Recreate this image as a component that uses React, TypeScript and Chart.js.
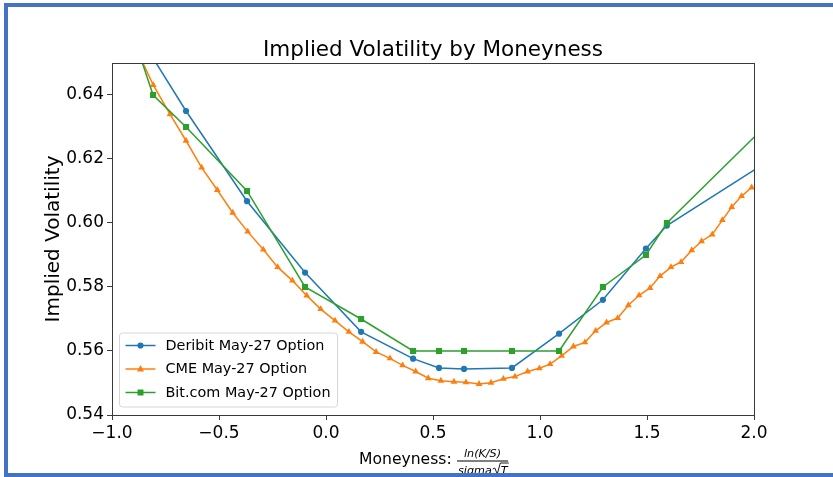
import React, { useEffect, useRef } from "react";
import { Chart, registerables } from "chart.js";

Chart.register(...registerables);

const FONT = "'DejaVu Sans', 'Noto Sans', sans-serif";

const chartTitle = "Implied Volatility by Moneyness";
const yTitle = "Implied Volatility";
const xTitleMain = "Moneyness:";
const xTitleNum = "ln(K/S)";
const xTitleDen = "sigma";
const xTitleDenRoot = "T";

const xTicks = [-1.0, -0.5, 0.0, 0.5, 1.0, 1.5, 2.0];
const yTicks = [0.54, 0.56, 0.58, 0.6, 0.62, 0.64];

const seriesNames = ["Deribit May-27 Option", "CME May-27 Option", "Bit.com May-27 Option"];
const seriesColors = ["#1f77b4", "#ff7f0e", "#2ca02c"];

const deribitX = [-0.92, -0.654, -0.369, -0.098, 0.164, 0.407, 0.528, 0.645, 0.869, 1.089, 1.294, 1.495, 1.593, 2.1];
const deribitY = [0.6635, 0.635, 0.6068, 0.5845, 0.566, 0.5576, 0.5547, 0.5544, 0.5547, 0.5654, 0.576, 0.592, 0.5992, 0.6208];

const cmeX = [-0.88, -0.807, -0.729, -0.654, -0.581, -0.508, -0.436, -0.366, -0.293, -0.226, -0.157, -0.09, -0.025, 0.042, 0.107, 0.171, 0.234, 0.299, 0.358, 0.419, 0.478, 0.537, 0.598, 0.654, 0.715, 0.771, 0.829, 0.883, 0.942, 0.997, 1.047, 1.101, 1.156, 1.21, 1.26, 1.311, 1.363, 1.413, 1.463, 1.514, 1.561, 1.612, 1.659, 1.709, 1.755, 1.805, 1.852, 1.896, 1.942, 1.989];
const cmeY = [0.6535, 0.6431, 0.634, 0.6257, 0.6173, 0.6103, 0.6032, 0.5973, 0.5917, 0.5862, 0.582, 0.5773, 0.5731, 0.5695, 0.566, 0.5629, 0.5597, 0.5577, 0.5555, 0.5536, 0.5515, 0.5507, 0.5504, 0.5502, 0.5497, 0.5501, 0.5513, 0.552, 0.5536, 0.5546, 0.5559, 0.5585, 0.5614, 0.5627, 0.5663, 0.5689, 0.5703, 0.5743, 0.5774, 0.5797, 0.5834, 0.5862, 0.5878, 0.5915, 0.5943, 0.5964, 0.6009, 0.605, 0.6084, 0.6111];

const bitcomX = [-0.92, -0.808, -0.654, -0.369, -0.098, 0.164, 0.407, 0.528, 0.645, 0.869, 1.089, 1.294, 1.495, 1.593, 2.1];
const bitcomY = [0.6624, 0.64, 0.63, 0.61, 0.58, 0.57, 0.56, 0.56, 0.56, 0.56, 0.56, 0.58, 0.59, 0.6, 0.6334];

const pts = (xs: number[], ys: number[]) => xs.map((x, i) => ({ x, y: ys[i] }));

const fmtTick = (v: number, d: number) => (v < 0 ? "\u2212" + Math.abs(v).toFixed(d) : v.toFixed(d));

function drawMarker(ctx: CanvasRenderingContext2D, style: string, x: number, y: number, color: string) {
  ctx.save();
  ctx.fillStyle = color;
  ctx.beginPath();
  if (style === "circle") {
    ctx.arc(x, y, 3.1, 0, Math.PI * 2);
  } else if (style === "triangle") {
    ctx.moveTo(x, y - 4);
    ctx.lineTo(x + 3.6, y + 2.4);
    ctx.lineTo(x - 3.6, y + 2.4);
    ctx.closePath();
  } else {
    ctx.rect(x - 3, y - 3, 6, 6);
  }
  ctx.fill();
  ctx.restore();
}

const markerStyles = ["circle", "triangle", "rect"];

const framePlugin = {
  id: "frame",
  afterDatasetsDraw(chart: any) {
    const { ctx, chartArea } = chart;
    const { left, top, right, bottom } = chartArea;
    ctx.save();
    ctx.strokeStyle = "#3a3a3a";
    ctx.lineWidth = 1;
    ctx.strokeRect(Math.round(left) + 0.5, Math.round(top) + 0.5, Math.round(right - left), Math.round(bottom - top));
    ctx.restore();
  },
};

const legendPlugin = {
  id: "innerLegend",
  afterDraw(chart: any) {
    const { ctx, chartArea } = chart;
    const bx = chartArea.left + 7.5;
    const by = chartArea.bottom - 82;
    const w = 218;
    const h = 74;
    ctx.save();
    ctx.beginPath();
    const r = 3;
    ctx.moveTo(bx + r, by);
    ctx.lineTo(bx + w - r, by);
    ctx.quadraticCurveTo(bx + w, by, bx + w, by + r);
    ctx.lineTo(bx + w, by + h - r);
    ctx.quadraticCurveTo(bx + w, by + h, bx + w - r, by + h);
    ctx.lineTo(bx + r, by + h);
    ctx.quadraticCurveTo(bx, by + h, bx, by + h - r);
    ctx.lineTo(bx, by + r);
    ctx.quadraticCurveTo(bx, by, bx + r, by);
    ctx.closePath();
    ctx.fillStyle = "rgba(255,255,255,0.8)";
    ctx.fill();
    ctx.strokeStyle = "#d6d6d6";
    ctx.lineWidth = 1;
    ctx.stroke();
    ctx.font = `14.4px ${FONT}`;
    ctx.textBaseline = "middle";
    ctx.textAlign = "left";
    seriesNames.forEach((name, i) => {
      const y = by + 12.5 + i * 23.5;
      ctx.strokeStyle = seriesColors[i];
      ctx.lineWidth = 1.5;
      ctx.beginPath();
      ctx.moveTo(bx + 6, y);
      ctx.lineTo(bx + 36, y);
      ctx.stroke();
      drawMarker(ctx, markerStyles[i], bx + 21, y, seriesColors[i]);
      ctx.fillStyle = "#000";
      ctx.fillText(name, bx + 46, y + 0.5);
    });
    ctx.restore();
  },
};

const xLabelPlugin = {
  id: "xLabel",
  afterDraw(chart: any) {
    const { ctx, chartArea } = chart;
    const cx = chartArea.left;
    const base = chartArea.bottom + 49;
    ctx.save();
    ctx.fillStyle = "#000";
    ctx.textBaseline = "alphabetic";
    ctx.textAlign = "left";
    ctx.font = `15.6px ${FONT}`;
    const x0 = cx + 247;
    ctx.fillText(xTitleMain, x0, base);
    const barL = x0 + 98;
    const barR = barL + 51;
    const mid = (barL + barR) / 2;
    ctx.font = `italic 11.2px ${FONT}`;
    ctx.textAlign = "center";
    ctx.fillText(xTitleNum, mid, base - 7);
    ctx.fillRect(barL, base - 3.5, barR - barL, 1);
    ctx.textAlign = "left";
    const dw = ctx.measureText(xTitleDen).width;
    ctx.fillText(xTitleDen, barL + 1, base + 9.5);
    const rx = barL + 1 + dw + 1;
    ctx.strokeStyle = "#000";
    ctx.lineWidth = 0.9;
    ctx.beginPath();
    ctx.moveTo(rx, base + 5);
    ctx.lineTo(rx + 2, base + 4);
    ctx.lineTo(rx + 4.5, base + 10);
    ctx.lineTo(rx + 7.5, base - 1);
    ctx.lineTo(rx + 16, base - 1);
    ctx.stroke();
    ctx.fillText(xTitleDenRoot, rx + 8, base + 9.5);
    ctx.restore();
  },
};

export default function App() {
  const ref = useRef<HTMLCanvasElement>(null);

  useEffect(() => {
    if (!ref.current) return;
    const tickFont = { family: FONT, size: 17 };
    const chart = new Chart(ref.current, {
      type: "line",
      data: {
        datasets: [
          {
            label: seriesNames[0],
            data: pts(deribitX, deribitY),
            borderColor: seriesColors[0],
            backgroundColor: seriesColors[0],
            borderWidth: 1.5,
            pointStyle: "circle",
            pointRadius: 3.1,
            pointBorderWidth: 0,
            tension: 0,
            clip: 0,
            order: 3,
          },
          {
            label: seriesNames[1],
            data: pts(cmeX, cmeY),
            borderColor: seriesColors[1],
            backgroundColor: seriesColors[1],
            borderWidth: 1.5,
            pointStyle: "triangle",
            pointRadius: 3.9,
            pointBorderWidth: 0,
            tension: 0,
            clip: 0,
            order: 2,
          },
          {
            label: seriesNames[2],
            data: pts(bitcomX, bitcomY),
            borderColor: seriesColors[2],
            backgroundColor: seriesColors[2],
            borderWidth: 1.5,
            pointStyle: "rect",
            pointRadius: 4.3,
            pointBorderWidth: 0,
            tension: 0,
            clip: 0,
            order: 1,
          },
        ] as any,
      },
      options: {
        animation: false,
        responsive: false,
        maintainAspectRatio: false,
        events: [],
        layout: { padding: { left: 0, right: 79, top: 0, bottom: 0 } },
        plugins: {
          legend: { display: false },
          tooltip: { enabled: false },
          title: {
            display: true,
            text: chartTitle,
            fullSize: false,
            color: "#000",
            font: { family: FONT, size: 21.5, weight: "normal" as any, lineHeight: 1.05 },
            padding: { top: 39, bottom: 1.4 },
          },
        },
        scales: {
          x: {
            type: "linear",
            min: -1,
            max: 2,
            afterBuildTicks: (s: any) => {
              s.ticks = xTicks.map((v) => ({ value: v }));
            },
            afterFit: (s: any) => {
              s.height = 62;
            },
            ticks: {
              callback: (v: any) => fmtTick(Number(v), 1),
              font: tickFont,
              color: "#000",
              padding: 3,
              maxRotation: 0,
              autoSkip: false,
            },
            grid: { drawOnChartArea: false, drawTicks: true, tickLength: 5, color: "#3a3a3a" },
            border: { display: false },
          },
          y: {
            type: "linear",
            min: 0.54,
            max: 0.65,
            afterBuildTicks: (s: any) => {
              s.ticks = yTicks.map((v) => ({ value: v }));
            },
            afterFit: (s: any) => {
              s.width = 112;
            },
            ticks: {
              callback: (v: any) => fmtTick(Number(v), 2),
              font: tickFont,
              color: "#000",
              padding: 3,
              autoSkip: false,
            },
            grid: { drawOnChartArea: false, drawTicks: true, tickLength: 5, color: "#3a3a3a" },
            border: { display: false },
            title: {
              display: true,
              text: yTitle,
              color: "#000",
              font: { family: FONT, size: 20 },
              padding: { top: 42, bottom: 0 },
            },
          },
        },
      } as any,
      plugins: [framePlugin, legendPlugin, xLabelPlugin],
    });
    return () => chart.destroy();
  }, []);

  return (
    <div
      style={{
        position: "fixed",
        left: 0,
        top: 0,
        width: 833,
        height: 477,
        overflow: "hidden",
        background: "#fff",
      }}
    >
      <canvas
        ref={ref}
        width={833}
        height={477}
        style={{ position: "absolute", left: 0, top: 0, width: 833, height: 477 }}
      />
      <div
        style={{
          position: "absolute",
          left: 4,
          top: 3,
          width: 900,
          height: 466,
          borderTop: "4px solid #4472C4",
          borderLeft: "4px solid #4472C4",
          borderBottom: "4px solid #4472C4",
          pointerEvents: "none",
        }}
      />
    </div>
  );
}
